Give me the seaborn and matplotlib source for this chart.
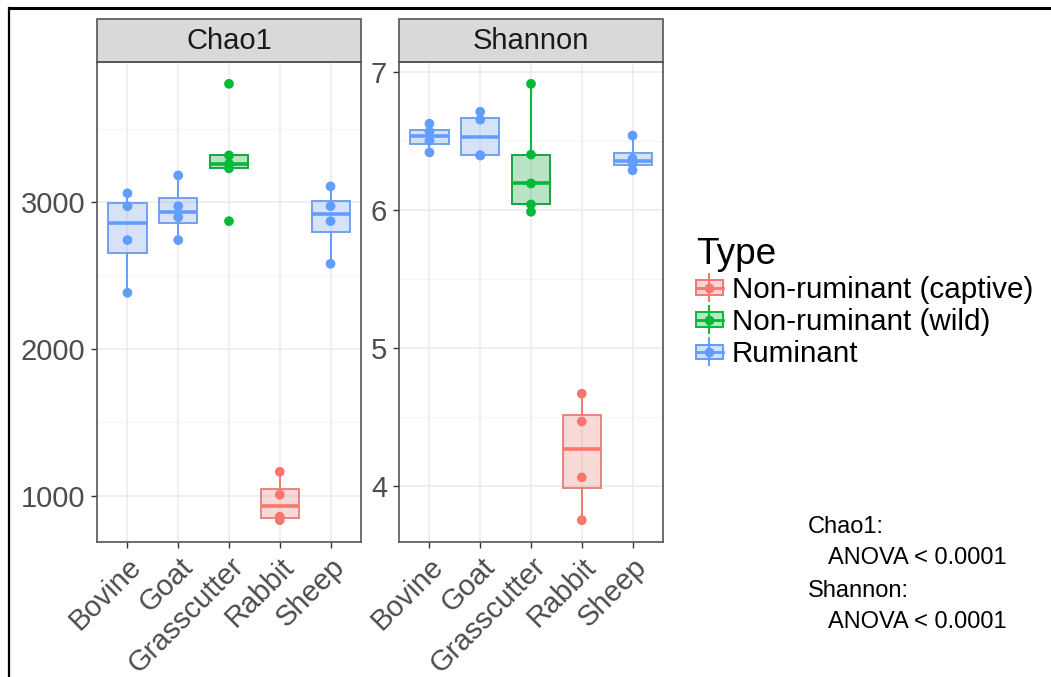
import numpy as np
import pandas as pd
import matplotlib
matplotlib.use("Agg")
import matplotlib.pyplot as plt
import seaborn as sns
from matplotlib.legend_handler import HandlerBase
from matplotlib.patches import Rectangle
from matplotlib.lines import Line2D

# ---------------- data ----------------
animals = ["Bovine", "Goat", "Grasscutter", "Rabbit", "Sheep"]
types = ["Non-ruminant (captive)", "Non-ruminant (wild)", "Ruminant"]
animal_types = ["Ruminant", "Ruminant", "Non-ruminant (wild)", "Non-ruminant (captive)", "Ruminant"]
type_colors = ["#F8766D", "#00BA38", "#619CFF"]

chao1_bovine = [2383, 2742, 2973, 3061]
chao1_goat = [2742, 2898, 2973, 3183]
chao1_grasscutter = [2871, 3231, 3262, 3319, 3807]
chao1_rabbit = [833, 857, 1007, 1163]
chao1_sheep = [2580, 2871, 2973, 3108]

shannon_bovine = [6.42, 6.505, 6.571, 6.628]
shannon_goat = [6.397, 6.40, 6.657, 6.715]
shannon_grasscutter = [5.99, 6.043, 6.195, 6.404, 6.917]
shannon_rabbit = [3.755, 4.065, 4.47, 4.672]
shannon_sheep = [6.29, 6.337, 6.375, 6.542]

chao1_ticks = [1000, 2000, 3000]
chao1_minor = [1500, 2500, 3500]
shannon_ticks = [4, 5, 6, 7]
shannon_minor = [4.5, 5.5, 6.5]

annotation_lines = ["Chao1:", "ANOVA < 0.0001", "Shannon:", "ANOVA < 0.0001"]

chao1_values = [chao1_bovine, chao1_goat, chao1_grasscutter, chao1_rabbit, chao1_sheep]
shannon_values = [shannon_bovine, shannon_goat, shannon_grasscutter, shannon_rabbit, shannon_sheep]


def long_df(values):
    rows = []
    for a, t, vals in zip(animals, animal_types, values):
        for v in vals:
            rows.append({"Animal": a, "Type": t, "value": v})
    return pd.DataFrame(rows)


palette = dict(zip(types, type_colors))
animal_color = {a: palette[t] for a, t in zip(animals, animal_types)}

plt.rcParams["font.family"] = ["Liberation Sans", "DejaVu Sans"]

W, H = 1051, 677
fig = plt.figure(figsize=(W / 100, H / 100), dpi=100)
fig.patch.set_facecolor("white")


def px_rect(l, t, r, b):
    return [l / W, 1 - b / H, (r - l) / W, (b - t) / H]


ax1 = fig.add_axes(px_rect(97, 62, 361, 542))
ax2 = fig.add_axes(px_rect(399, 62, 663, 542))

panels = [
    (ax1, "Chao1", chao1_values, chao1_ticks, chao1_minor),
    (ax2, "Shannon", shannon_values, shannon_ticks, shannon_minor),
]

strip_h = 43 / 480

for ax, title, values, ticks, minor in panels:
    df = long_df(values)
    sns.boxplot(
        data=df, x="Animal", y="value", hue="Type", order=animals,
        hue_order=types, palette=palette, dodge=False, width=0.75,
        showfliers=False, showcaps=False, linewidth=1.4,
        medianprops={"linewidth": 2.6}, legend=False, ax=ax,
    )
    # colour box edges and lines by their own hue, translucent fill
    for p in ax.patches:
        fc = p.get_facecolor()
        p.set_edgecolor(fc[:3])
        p.set_facecolor((fc[0], fc[1], fc[2], 0.3))
    for ln in ax.lines:
        xd = np.asarray(ln.get_xdata(), dtype=float)
        if xd.size:
            idx = int(round(float(np.mean(xd))))
            if 0 <= idx < len(animals):
                ln.set_color(animal_color[animals[idx]])
    sns.stripplot(
        data=df, x="Animal", y="value", hue="Type", order=animals,
        hue_order=types, palette=palette, dodge=False, jitter=False,
        size=7, linewidth=0, legend=False, ax=ax, zorder=4,
    )

    allv = np.concatenate([np.asarray(v, float) for v in values])
    lo, hi = allv.min(), allv.max()
    pad = (hi - lo) * 0.05
    ax.set_ylim(lo - pad, hi + pad)
    ax.set_xlim(-0.6, len(animals) - 0.4)

    ax.set_yticks(ticks)
    ax.set_yticklabels([str(t) for t in ticks])
    ax.set_yticks(minor, minor=True)
    ax.set_xticks(range(len(animals)))
    ax.set_xticklabels(animals, rotation=45, ha="right", va="top",
                       rotation_mode="anchor")
    ax.set_xlabel("")
    ax.set_ylabel("")

    ax.set_axisbelow(True)
    ax.grid(True, which="major", axis="both", color="#EBEBEB", lw=1.1)
    ax.grid(True, which="minor", axis="y", color="#F2F2F2", lw=0.6)
    ax.tick_params(axis="both", which="major", length=4.5, width=1,
                   color="#333333", labelsize=21, labelcolor="#4D4D4D", pad=4)
    ax.tick_params(axis="x", which="major", pad=3)
    ax.tick_params(which="minor", length=0)
    for s in ax.spines.values():
        s.set_color("#555555")
        s.set_linewidth(1.2)
        s.set_zorder(5)

    ax.add_patch(Rectangle((0, 1), 1, strip_h, transform=ax.transAxes,
                           clip_on=False, facecolor="#D9D9D9",
                           edgecolor="#555555", lw=1.2, zorder=5))
    ax.text(0.5, 1 + strip_h / 2 - 0.002, title, transform=ax.transAxes,
            ha="center", va="center", fontsize=21, color="#1A1A1A", zorder=6)


# ---------------- legend with boxplot-like keys ----------------
class BoxKey:
    def __init__(self, color):
        self.color = color


class BoxHandler(HandlerBase):
    def create_artists(self, legend, orig_handle, xdescent, ydescent,
                       width, height, fontsize, trans):
        c = orig_handle.color
        x0, y0 = -xdescent, -ydescent
        cx = x0 + width / 2
        cy = y0 + height / 2
        whisk = Line2D([cx, cx], [y0 - 0.05 * height, y0 + 1.05 * height],
                       color=c, lw=1.4, transform=trans)
        box = Rectangle((x0, y0 + 0.2 * height), width, 0.6 * height,
                        facecolor=(*matplotlib.colors.to_rgb(c), 0.3),
                        edgecolor=c, lw=1.4, transform=trans)
        med = Line2D([x0, x0 + width], [cy, cy], color=c, lw=2.0,
                     transform=trans)
        dot = Line2D([cx], [cy], marker="o", ms=6, color=c, lw=0,
                     transform=trans)
        return [whisk, box, med, dot]


handles = [BoxKey(c) for c in type_colors]
leg = fig.legend(
    handles, types, handler_map={BoxKey: BoxHandler()}, title="Type",
    loc="upper left", bbox_to_anchor=(696 / W, 1 - 237 / H), frameon=False,
    fontsize=21.3, title_fontsize=26.6, alignment="left",
    handlelength=0.9, handleheight=0.9, handletextpad=0.3,
    labelspacing=0.12, borderpad=0, borderaxespad=0,
)

# ---------------- annotation ----------------
ann_x = [808, 828, 808, 828]
ann_y = [533, 564, 597, 628]
for txt, x, y in zip(annotation_lines, ann_x, ann_y):
    fig.text(x / W, 1 - y / H, txt, fontsize=17, color="black",
             ha="left", va="baseline")

# ---------------- outer frame lines ----------------
fig.add_artist(Line2D([9 / W, 1], [1 - 8 / H, 1 - 8 / H],
                      transform=fig.transFigure, color="black", lw=2.2))
fig.add_artist(Line2D([9 / W, 9 / W], [0, 1 - 8 / H],
                      transform=fig.transFigure, color="black", lw=1.6))

fig.savefig("out.png", dpi=100, facecolor="white")
